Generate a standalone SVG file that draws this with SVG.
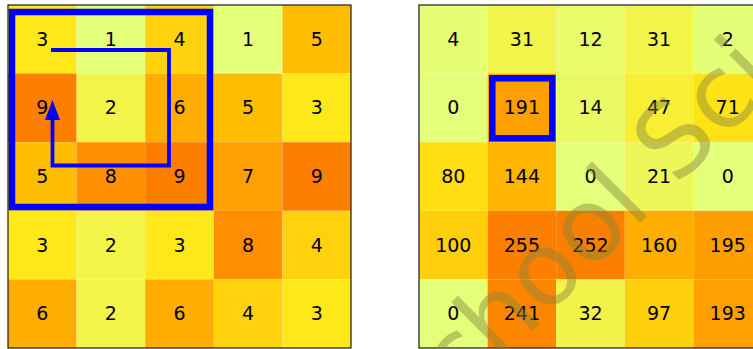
<svg xmlns="http://www.w3.org/2000/svg" width="753" height="349" viewBox="0 0 753 349">
<style>
text.v{font-family:"DejaVu Sans",sans-serif;font-size:19px;fill:#000;text-anchor:middle}
.frame{fill:none;stroke:#1a1a1a;stroke-width:1.2}
.hl{fill:none;stroke:#0000ff}
.wm{font-family:"DejaVu Sans",sans-serif;font-size:102px;fill:#85853a;fill-opacity:0.45}
</style>
<defs>
<marker id="ah" markerWidth="15" markerHeight="20" refX="7.5" refY="0" orient="auto" markerUnits="userSpaceOnUse" viewBox="0 0 15 20"/>
</defs>
<rect width="753" height="349" fill="#fff"/>
<g id="left-grid">
<g id="L00"><rect x="8" y="5" width="68.6" height="68.6" fill="#ffe81a"/><text class="v" x="42.3" y="45.8">3</text></g>
<g id="L01"><rect x="76.6" y="5" width="68.6" height="68.6" fill="#e4ff7a"/><text class="v" x="110.9" y="45.8">1</text></g>
<g id="L02"><rect x="145.2" y="5" width="68.6" height="68.6" fill="#ffd20d"/><text class="v" x="179.5" y="45.8">4</text></g>
<g id="L03"><rect x="213.8" y="5" width="68.6" height="68.6" fill="#e4ff7a"/><text class="v" x="248.1" y="45.8">1</text></g>
<g id="L04"><rect x="282.4" y="5" width="68.6" height="68.6" fill="#ffbd00"/><text class="v" x="316.7" y="45.8">5</text></g>
<g id="L10"><rect x="8" y="73.6" width="68.6" height="68.6" fill="#fc7f00"/><text class="v" x="42.3" y="114.4">9</text></g>
<g id="L11"><rect x="76.6" y="73.6" width="68.6" height="68.6" fill="#f2f44a"/><text class="v" x="110.9" y="114.4">2</text></g>
<g id="L12"><rect x="145.2" y="73.6" width="68.6" height="68.6" fill="#ffae00"/><text class="v" x="179.5" y="114.4">6</text></g>
<g id="L13"><rect x="213.8" y="73.6" width="68.6" height="68.6" fill="#ffbd00"/><text class="v" x="248.1" y="114.4">5</text></g>
<g id="L14"><rect x="282.4" y="73.6" width="68.6" height="68.6" fill="#ffe81a"/><text class="v" x="316.7" y="114.4">3</text></g>
<g id="L20"><rect x="8" y="142.2" width="68.6" height="68.6" fill="#ffbd00"/><text class="v" x="42.3" y="183">5</text></g>
<g id="L21"><rect x="76.6" y="142.2" width="68.6" height="68.6" fill="#fe8f00"/><text class="v" x="110.9" y="183">8</text></g>
<g id="L22"><rect x="145.2" y="142.2" width="68.6" height="68.6" fill="#fc7f00"/><text class="v" x="179.5" y="183">9</text></g>
<g id="L23"><rect x="213.8" y="142.2" width="68.6" height="68.6" fill="#ffa000"/><text class="v" x="248.1" y="183">7</text></g>
<g id="L24"><rect x="282.4" y="142.2" width="68.6" height="68.6" fill="#fc7f00"/><text class="v" x="316.7" y="183">9</text></g>
<g id="L30"><rect x="8" y="210.8" width="68.6" height="68.6" fill="#ffe81a"/><text class="v" x="42.3" y="251.6">3</text></g>
<g id="L31"><rect x="76.6" y="210.8" width="68.6" height="68.6" fill="#f2f44a"/><text class="v" x="110.9" y="251.6">2</text></g>
<g id="L32"><rect x="145.2" y="210.8" width="68.6" height="68.6" fill="#ffe81a"/><text class="v" x="179.5" y="251.6">3</text></g>
<g id="L33"><rect x="213.8" y="210.8" width="68.6" height="68.6" fill="#fe8f00"/><text class="v" x="248.1" y="251.6">8</text></g>
<g id="L34"><rect x="282.4" y="210.8" width="68.6" height="68.6" fill="#ffd20d"/><text class="v" x="316.7" y="251.6">4</text></g>
<g id="L40"><rect x="8" y="279.4" width="68.6" height="68.6" fill="#ffae00"/><text class="v" x="42.3" y="320.2">6</text></g>
<g id="L41"><rect x="76.6" y="279.4" width="68.6" height="68.6" fill="#f2f44a"/><text class="v" x="110.9" y="320.2">2</text></g>
<g id="L42"><rect x="145.2" y="279.4" width="68.6" height="68.6" fill="#ffae00"/><text class="v" x="179.5" y="320.2">6</text></g>
<g id="L43"><rect x="213.8" y="279.4" width="68.6" height="68.6" fill="#ffd20d"/><text class="v" x="248.1" y="320.2">4</text></g>
<g id="L44"><rect x="282.4" y="279.4" width="68.6" height="68.6" fill="#ffe81a"/><text class="v" x="316.7" y="320.2">3</text></g>
<rect class="frame" x="8" y="5" width="343" height="343"/>
</g>
<g id="right-grid">
<g id="R00"><rect x="419" y="5" width="68.6" height="68.6" fill="#e6fe74"/><text class="v" x="453.3" y="45.8">4</text></g>
<g id="R01"><rect x="487.6" y="5" width="68.6" height="68.6" fill="#f1f44b"/><text class="v" x="521.9" y="45.8">31</text></g>
<g id="R02"><rect x="556.2" y="5" width="68.6" height="68.6" fill="#e9fb68"/><text class="v" x="590.5" y="45.8">12</text></g>
<g id="R03"><rect x="624.8" y="5" width="68.6" height="68.6" fill="#f1f44b"/><text class="v" x="659.1" y="45.8">31</text></g>
<g id="R04"><rect x="693.4" y="5" width="68.6" height="68.6" fill="#e5fe77"/><text class="v" x="727.7" y="45.8">2</text></g>
<g id="R10"><rect x="419" y="73.6" width="68.6" height="68.6" fill="#e4ff7a"/><text class="v" x="453.3" y="114.4">0</text></g>
<g id="R11"><rect x="487.6" y="73.6" width="68.6" height="68.6" fill="#ffa000"/><text class="v" x="521.9" y="114.4">191</text></g>
<g id="R12"><rect x="556.2" y="73.6" width="68.6" height="68.6" fill="#eafa65"/><text class="v" x="590.5" y="114.4">14</text></g>
<g id="R13"><rect x="624.8" y="73.6" width="68.6" height="68.6" fill="#f8ee33"/><text class="v" x="659.1" y="114.4">47</text></g>
<g id="R14"><rect x="693.4" y="73.6" width="68.6" height="68.6" fill="#ffe317"/><text class="v" x="727.7" y="114.4">71</text></g>
<g id="R20"><rect x="419" y="142.2" width="68.6" height="68.6" fill="#ffdd13"/><text class="v" x="453.3" y="183">80</text></g>
<g id="R21"><rect x="487.6" y="142.2" width="68.6" height="68.6" fill="#ffb500"/><text class="v" x="521.9" y="183">144</text></g>
<g id="R22"><rect x="556.2" y="142.2" width="68.6" height="68.6" fill="#e4ff7a"/><text class="v" x="590.5" y="183">0</text></g>
<g id="R23"><rect x="624.8" y="142.2" width="68.6" height="68.6" fill="#edf75a"/><text class="v" x="659.1" y="183">21</text></g>
<g id="R24"><rect x="693.4" y="142.2" width="68.6" height="68.6" fill="#e4ff7a"/><text class="v" x="727.7" y="183">0</text></g>
<g id="R30"><rect x="419" y="210.8" width="68.6" height="68.6" fill="#ffcf0b"/><text class="v" x="453.3" y="251.6">100</text></g>
<g id="R31"><rect x="487.6" y="210.8" width="68.6" height="68.6" fill="#fc7f00"/><text class="v" x="521.9" y="251.6">255</text></g>
<g id="R32"><rect x="556.2" y="210.8" width="68.6" height="68.6" fill="#fc8000"/><text class="v" x="590.5" y="251.6">252</text></g>
<g id="R33"><rect x="624.8" y="210.8" width="68.6" height="68.6" fill="#ffae00"/><text class="v" x="659.1" y="251.6">160</text></g>
<g id="R34"><rect x="693.4" y="210.8" width="68.6" height="68.6" fill="#ff9e00"/><text class="v" x="727.7" y="251.6">195</text></g>
<g id="R40"><rect x="419" y="279.4" width="68.6" height="68.6" fill="#e4ff7a"/><text class="v" x="453.3" y="320.2">0</text></g>
<g id="R41"><rect x="487.6" y="279.4" width="68.6" height="68.6" fill="#fd8600"/><text class="v" x="521.9" y="320.2">241</text></g>
<g id="R42"><rect x="556.2" y="279.4" width="68.6" height="68.6" fill="#f2f34a"/><text class="v" x="590.5" y="320.2">32</text></g>
<g id="R43"><rect x="624.8" y="279.4" width="68.6" height="68.6" fill="#ffd10c"/><text class="v" x="659.1" y="320.2">97</text></g>
<g id="R44"><rect x="693.4" y="279.4" width="68.6" height="68.6" fill="#ff9f00"/><text class="v" x="727.7" y="320.2">193</text></g>
<rect class="frame" x="419" y="5" width="343" height="343"/>
</g>
<g id="highlights">
<rect class="hl" x="12" y="12" width="198" height="195" stroke-width="6.5"/>
<rect class="hl" x="492.3" y="78.3" width="60" height="60" stroke-width="6.5"/>
</g>
<g id="connectors">
<path d="M51,50 H169 V165.5 H52.5 V118" fill="none" stroke="#0000ff" stroke-width="3.8"/>
<polygon points="52.5,100 45,120 60,120" fill="#0000ff"/>
</g>
<g id="watermark">
<text class="wm" transform="translate(414,449) rotate(-45)">School Sci</text>
</g>
</svg>
